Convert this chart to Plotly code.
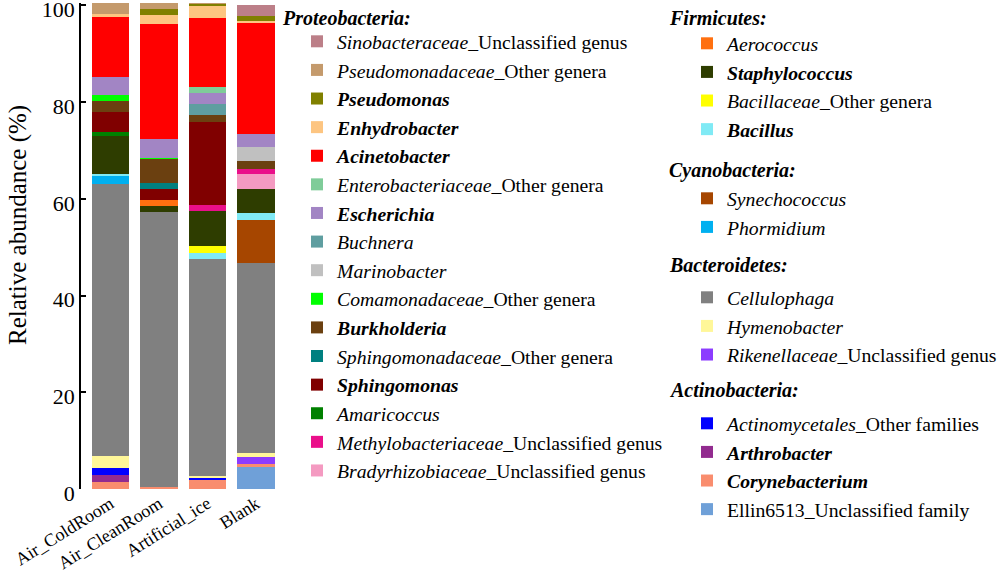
import plotly.graph_objects as go

samples = ["Air_ColdRoom", "Air_CleanRoom", "Artificial_ice", "Blank"]

# taxa in stacking order (bottom -> top)
taxa = [
    "Ellin6513", "Corynebacterium", "Arthrobacter", "Actinomycetales",
    "Rikenellaceae", "Hymenobacter", "Cellulophaga",
    "Phormidium", "Synechococcus",
    "Bacillus", "Bacillaceae", "Staphylococcus", "Aerococcus",
    "Bradyrhizobiaceae", "Methylobacteriaceae", "Amaricoccus", "Sphingomonas",
    "Sphingomonadaceae", "Burkholderia", "Comamonadaceae", "Marinobacter",
    "Buchnera", "Escherichia", "Enterobacteriaceae", "Acinetobacter",
    "Enhydrobacter", "Pseudomonas", "Pseudomonadaceae", "Sinobacteraceae",
]

labels = [
    "Ellin6513_Unclassified family", "<b><i>Corynebacterium</i></b>", "<b><i>Arthrobacter</i></b>",
    "<i>Actinomycetales</i>_Other families",
    "<i>Rikenellaceae</i>_Unclassified genus", "<i>Hymenobacter</i>", "<i>Cellulophaga</i>",
    "<i>Phormidium</i>", "<i>Synechococcus</i>",
    "<b><i>Bacillus</i></b>", "<i>Bacillaceae</i>_Other genera", "<b><i>Staphylococcus</i></b>",
    "<i>Aerococcus</i>",
    "<i>Bradyrhizobiaceae</i>_Unclassified genus", "<i>Methylobacteriaceae</i>_Unclassified genus",
    "<i>Amaricoccus</i>", "<b><i>Sphingomonas</i></b>",
    "<i>Sphingomonadaceae</i>_Other genera", "<b><i>Burkholderia</i></b>",
    "<i>Comamonadaceae</i>_Other genera", "<i>Marinobacter</i>",
    "<i>Buchnera</i>", "<b><i>Escherichia</i></b>", "<i>Enterobacteriaceae</i>_Other genera",
    "<b><i>Acinetobacter</i></b>",
    "<b><i>Enhydrobacter</i></b>", "<b><i>Pseudomonas</i></b>",
    "<i>Pseudomonadaceae</i>_Other genera", "<i>Sinobacteraceae</i>_Unclassified genus",
]

groups = (["legend5"] * 4 + ["legend4"] * 3 + ["legend3"] * 2 + ["legend2"] * 4
          + ["legend"] * 16)

group_titles = ["Proteobacteria:", "Firmicutes:", "Cyanobacteria:", "Bacteroidetes:", "Actinobacteria:"]

colors = [
    "#6FA0D8", "#F98D6E", "#922B8F", "#0000FF",
    "#8C3CFF", "#FFF799", "#808080",
    "#00B0F0", "#A64600",
    "#80EAF5", "#FFFF00", "#2E3D00", "#FF7010",
    "#F49AC1", "#EA0F8A", "#008000", "#800000",
    "#008080", "#6B4010", "#00FF00", "#C0C0C0",
    "#5F9EA0", "#A285C4", "#7FCC99", "#FF0000",
    "#FDC581", "#808000", "#C49A6C", "#BC7F88",
]

air_coldroom = [0, 1.4, 1.5, 1.4, 0, 2.5, 56.2, 1.65, 0, 0.55, 0, 7.7, 0,
                0, 0, 1.0, 4.1, 0, 2.3, 1.2, 0, 0, 3.8, 0, 12.25, 0.7, 0, 2.3, 0]
air_cleanroom = [0, 0.5, 0, 0, 0, 0, 56.7, 0, 0, 0, 0, 1.3, 1.25,
                 0, 0, 0, 2.3, 1.3, 4.9, 0.3, 0, 0, 3.9, 0, 23.7, 1.9, 1.25, 1.4, 0]
artificial_ice = [0, 1.9, 0, 0.55, 0, 0.2, 45.0, 0, 0, 1.25, 1.25, 7.3, 0,
                  0, 1.25, 0, 17.1, 0, 1.6, 0, 0, 2.2, 2.3, 1.3, 14.2, 2.4, 0.5, 0.55, 0]
blank = [4.5, 0.6, 0, 0, 1.45, 0.8, 39.3, 0, 8.9, 1.6, 0, 4.9, 0,
         3.1, 1.0, 0, 0, 0, 1.75, 0, 2.75, 0, 2.75, 0, 22.9, 0.5, 1.0, 0, 2.3]

FONT = "Liberation Serif"
W, H = 1000, 571
ML, MR, MT, MB = 81, 720, 3, 82
PW, PH = W - ML - MR, H - MT - MB

fig = go.Figure()
for i, t in enumerate(taxa):
    fig.add_trace(go.Bar(
        x=samples,
        y=[air_coldroom[i], air_cleanroom[i], artificial_ice[i], blank[i]],
        name=labels[i],
        marker=dict(color=colors[i], line=dict(width=0)),
        legend=groups[i],
    ))

def leg(x, ytop, indent):
    return dict(
        font=dict(family=FONT, size=19.7, color="black"),
        xref="container", yref="container",
        x=x, y=1 - ytop / H, xanchor="left", yanchor="top",
        traceorder="reversed", bgcolor="rgba(0,0,0,0)", indentation=indent,
        maxheight=560,
    )

# legend-group headings (pixel positions of the reference layout)
title_pos = [(280, 18), (667, 18), (667, 170), (667, 265), (667, 390)]
annotations = [dict(
    text="Relative abundance (%)", textangle=-90,
    xref="paper", yref="paper", x=(18 - ML) / PW, y=(H - MB - 225) / PH,
    xanchor="center", yanchor="middle", showarrow=False,
    font=dict(family=FONT, size=25, color="black"),
)]
for t, (px, py) in zip(group_titles, title_pos):
    annotations.append(dict(
        text="<b><i>" + t + "</i></b>", xref="paper", yref="paper",
        x=(px - ML) / PW, y=(H - MB - py) / PH, xanchor="left", yanchor="middle",
        showarrow=False, font=dict(family=FONT, size=20, color="black"),
    ))

fig.update_layout(
    width=W, height=H,
    barmode="stack", bargap=0.225,
    plot_bgcolor="white", paper_bgcolor="white",
    margin=dict(l=ML, r=MR, t=MT, b=MB, autoexpand=False),
    font=dict(family=FONT, color="black"),
    legend=leg(0.281, 22, 16),
    legend2=leg(0.668, 24, 19),
    legend3=leg(0.668, 179, 19),
    legend4=leg(0.668, 278, 19),
    legend5=leg(0.668, 404, 19),
    showlegend=True,
    annotations=annotations,
)
fig.update_xaxes(
    range=[-0.607, 3.49], showline=False, ticks="", tickangle=-32,
    tickfont=dict(family=FONT, size=18, color="black"), showgrid=False,
    automargin=False, ticklabeloverflow="allow",
)
fig.update_yaxes(
    range=[0, 100.5], tickvals=[0, 20, 40, 60, 80, 100], showline=True,
    linecolor="black", linewidth=1.5, ticks="inside", ticklen=5, tickwidth=1.5,
    tickcolor="black", showgrid=False, zeroline=False, automargin=False,
    tickfont=dict(family=FONT, size=22, color="black"), ticklabeloverflow="allow",
    ticklabelshift=4,
)

fig.write_html("out.html", config={"displayModeBar": False},
               post_script="document.body.style.margin='0px';")
